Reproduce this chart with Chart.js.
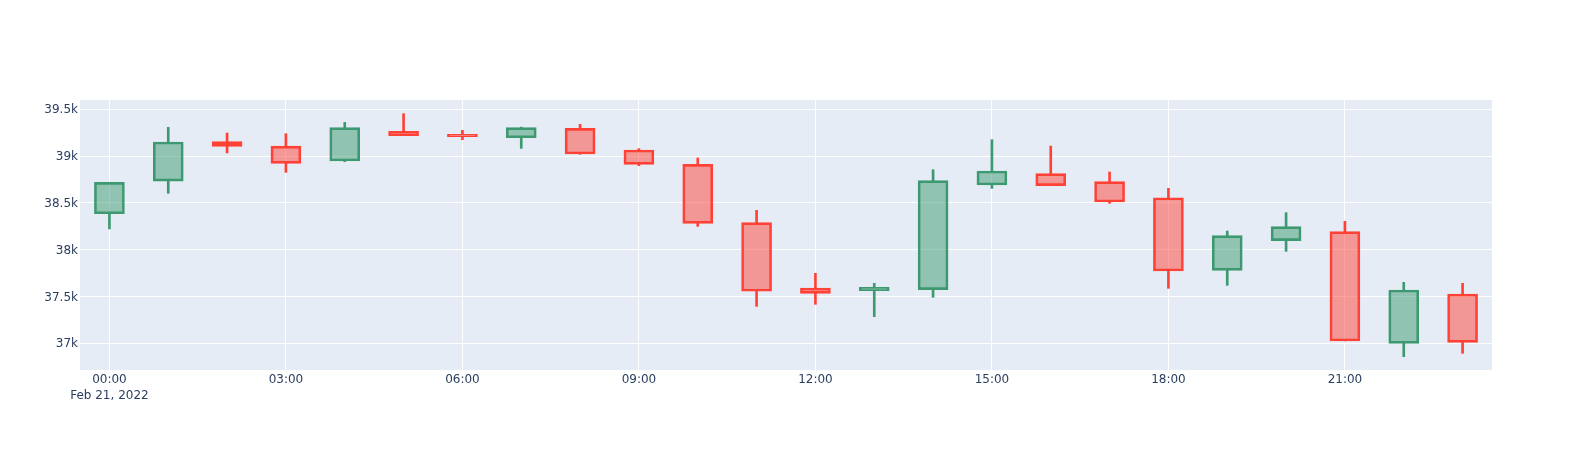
<!DOCTYPE html>
<html>
<head>
<meta charset="utf-8">
<script src="https://cdn.jsdelivr.net/npm/chart.js@4.4.1/dist/chart.umd.min.js"></script>
<style>
  html, body { margin: 0; padding: 0; background: #ffffff; }
  canvas { display: block; }
</style>
</head>
<body>
<canvas id="candleChart" width="1572" height="450"></canvas>
<script>
// === chart data ===
const hourLabels = ["00:00", "01:00", "02:00", "03:00", "04:00", "05:00", "06:00", "07:00",
    "08:00", "09:00", "10:00", "11:00", "12:00", "13:00", "14:00", "15:00",
    "16:00", "17:00", "18:00", "19:00", "20:00", "21:00", "22:00", "23:00"];
const dateLabel = "Feb 21, 2022";

const openPrices = [38385, 38734, 39155, 39108, 38948, 39265, 39233, 39197,
    39297, 39066, 38912, 38289, 37591, 37563, 37574, 38692,
    38813, 38727, 38556, 37780, 38097, 38193, 37000, 37527];
const highPrices = [38720, 39308, 39247, 39240, 39361, 39454, 39276, 39310,
    39340, 39080, 38980, 38421, 37748, 37641, 38855, 39176,
    39108, 38831, 38656, 38200, 38396, 38304, 37652, 37641];
const lowPrices = [38222, 38603, 39034, 38827, 38941, 39219, 39176, 39083,
    39020, 38898, 38250, 37395, 37417, 37285, 37492, 38656,
    38685, 38496, 37588, 37620, 37983, 37025, 36858, 36893];
const closePrices = [38720, 39151, 39105, 38923, 39304, 39219, 39208, 39304,
    39023, 38912, 38282, 37556, 37534, 37598, 38738, 38841,
    38685, 38510, 37773, 38150, 38247, 37025, 37570, 37011];

const yTicks = [37000, 37500, 38000, 38500, 39000, 39500];

document.addEventListener("DOMContentLoaded", () => {

    const incLine = "#3D9970";
    const incFill = "rgba(61,153,112,0.5)";
    const decLine = "#FF4136";
    const decFill = "rgba(255,65,54,0.5)";

    const isUp = openPrices.map((o, i) => closePrices[i] >= o);
    const lineColors = isUp.map(up => up ? incLine : decLine);
    const fillColors = isUp.map(up => up ? incFill : decFill);

    const bodies = openPrices.map((o, i) => [o, closePrices[i]]);
    const lowerWicks = openPrices.map((o, i) => [lowPrices[i], Math.min(o, closePrices[i])]);
    const upperWicks = openPrices.map((o, i) => [Math.max(o, closePrices[i]), highPrices[i]]);

    // plot area background like plotly
    const plotBackground = {
        id: "plotBackground",
        beforeDraw(chart) {
            const { ctx, chartArea: a } = chart;
            ctx.save();
            ctx.fillStyle = "#E5ECF6";
            ctx.fillRect(a.left, a.top, a.width, a.height);
            ctx.restore();
        }
    };

    const tickFont = { family: "'DejaVu Sans', Verdana, sans-serif", size: 12, lineHeight: 1.35 };

    new Chart(document.getElementById("candleChart").getContext("2d"), {
        type: "bar",
        data: {
            labels: hourLabels,
            datasets: [
                {
                    data: bodies,
                    backgroundColor: fillColors,
                    borderColor: lineColors,
                    borderWidth: 2,
                    borderSkipped: false,
                    barThickness: 30,
                    grouped: false
                },
                {
                    data: lowerWicks,
                    backgroundColor: lineColors,
                    borderWidth: 0,
                    barThickness: 2,
                    grouped: false
                },
                {
                    data: upperWicks,
                    backgroundColor: lineColors,
                    borderWidth: 0,
                    barThickness: 2,
                    grouped: false
                }
            ]
        },
        options: {
            responsive: false,
            animation: false,
            layout: { padding: { top: 100, right: 80, left: 0, bottom: 0 } },
            plugins: {
                legend: { display: false },
                tooltip: { enabled: false }
            },
            scales: {
                x: {
                    type: "category",
                    offset: true,
                    border: { display: false },
                    grid: {
                        offset: false,
                        drawTicks: false,
                        lineWidth: 1,
                        color: ctx => (ctx.index % 3 === 0 ? "#ffffff" : "rgba(0,0,0,0)")
                    },
                    ticks: {
                        autoSkip: false,
                        maxRotation: 0,
                        padding: 2,
                        color: "#2a3f5f",
                        font: tickFont,
                        callback: (value, index) => {
                            if (index % 3 !== 0) return "";
                            return index === 0 ? [hourLabels[0], dateLabel] : hourLabels[index];
                        }
                    },
                    afterFit: s => { s.height = 80; }
                },
                y: {
                    min: 36715,
                    max: 39600,
                    border: { display: false },
                    grid: { color: "#ffffff", lineWidth: 1, drawTicks: false },
                    ticks: {
                        stepSize: 500,
                        padding: 2,
                        labelOffset: 1,
                        color: "#2a3f5f",
                        font: tickFont,
                        callback: v => (v / 1000) + "k"
                    },
                    afterBuildTicks: s => {
                        s.ticks = yTicks.map(v => ({ value: v }));
                    },
                    afterFit: s => { s.width = 80; }
                }
            }
        },
        plugins: [plotBackground]
    });
});
</script>
</body>
</html>
